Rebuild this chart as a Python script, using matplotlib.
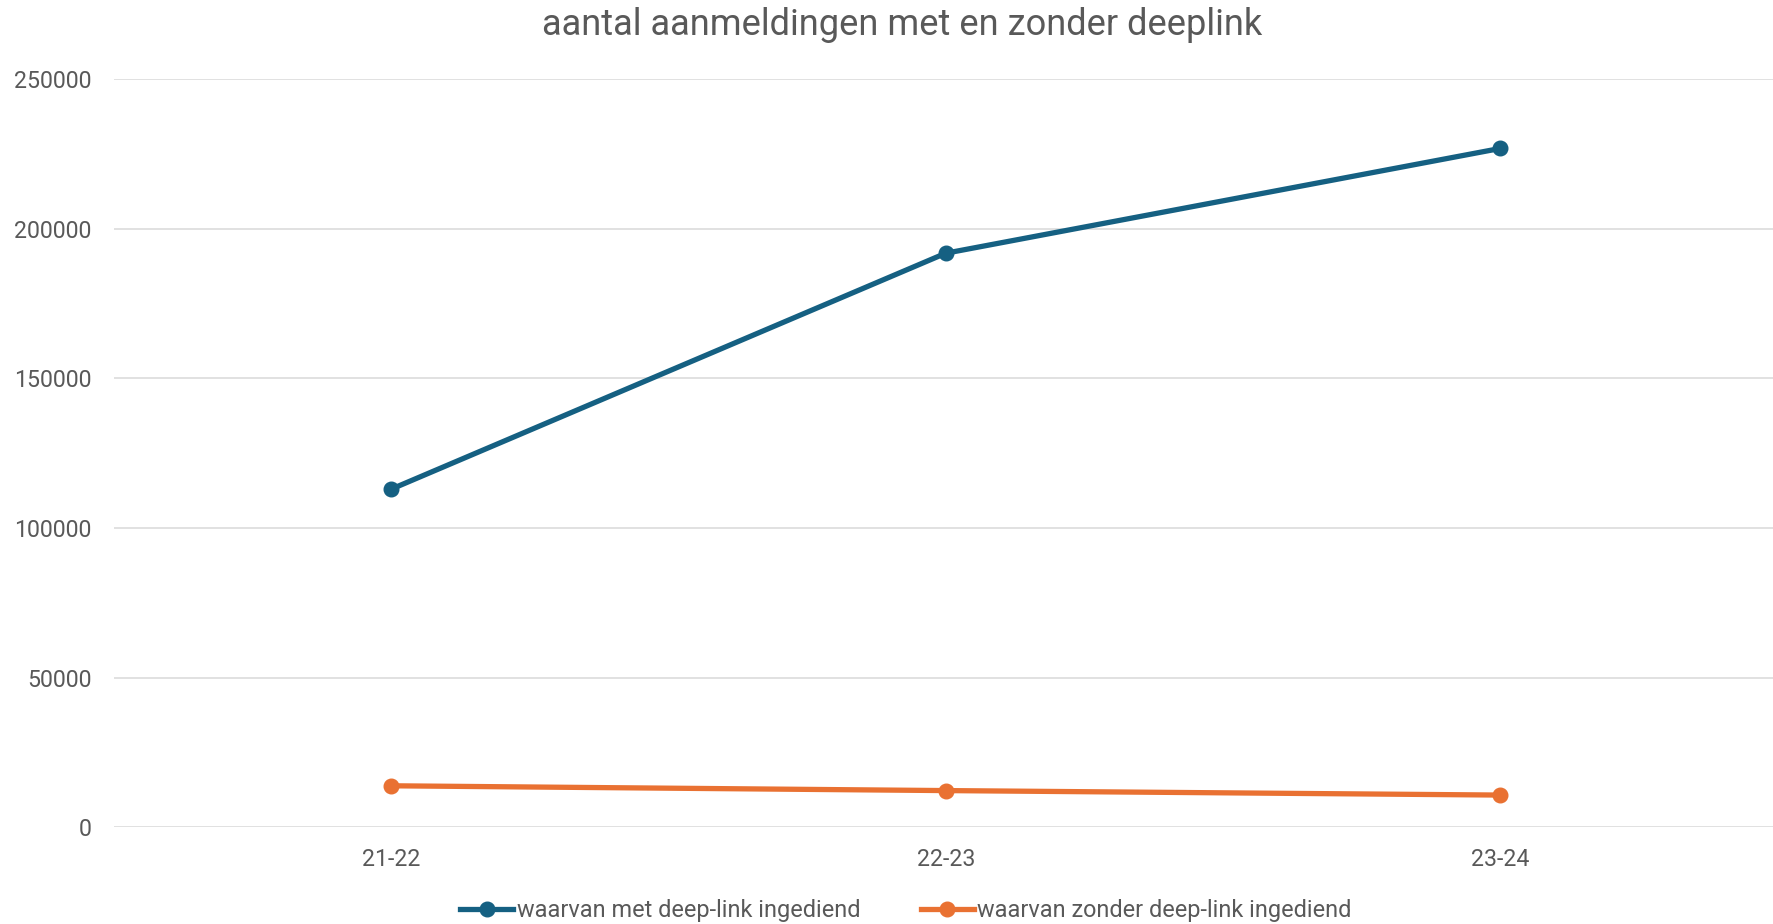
import matplotlib
matplotlib.use("Agg")
import matplotlib.pyplot as plt
from matplotlib.lines import Line2D

categories = ["21-22", "22-23", "23-24"]
met_deeplink = [113000, 191800, 226800]
zonder_deeplink = [13900, 12300, 10800]
series_names = ["waarvan met deep-link ingediend", "waarvan zonder deep-link ingediend"]
title = "aantal aanmeldingen met en zonder deeplink"
yticks = [0, 50000, 100000, 150000, 200000, 250000]

W, H = 1773, 924
plt.rcParams['font.family'] = ['Roboto', 'DejaVu Sans']
fig = plt.figure(figsize=(W / 100, H / 100), dpi=100)
left, right = 114, 1777.5
bottom, top = 827.4, 79.0
ax = fig.add_axes([left / W, 1 - bottom / H, (right - left) / W, (bottom - top) / H])

blue = "#156082"
orange = "#E97132"
text_col = "#595959"

x = list(range(len(categories)))
ax.plot(x, met_deeplink, color=blue, lw=3.8, marker='o', ms=10.5, solid_capstyle='round', zorder=3, clip_on=False)
ax.plot(x, zonder_deeplink, color=orange, lw=3.8, marker='o', ms=10.5, solid_capstyle='round', zorder=3, clip_on=False)

ax.set_xlim(-0.5, len(categories) - 0.5)
ax.set_ylim(0, 250000)
ax.set_yticks(yticks)
ax.set_yticklabels([str(v) for v in yticks])
ax.set_xticks(x)
ax.set_xticklabels(categories)
ax.grid(axis='y', color='#D9D9D9', lw=1.1)
ax.set_axisbelow(True)
for s in ax.spines.values():
    s.set_visible(False)
ax.tick_params(axis='both', length=0, labelsize=16.7, colors=text_col)
ax.tick_params(axis='y', pad=16)
ax.tick_params(axis='x', pad=14.5)

fig.text(902 / W, 1 - 25 / H, title, ha='center', va='center', fontsize=26.1, color=text_col)

handles = [Line2D([0], [0], color=blue, lw=3.8, marker='o', ms=10.5),
           Line2D([0], [0], color=orange, lw=3.8, marker='o', ms=10.5)]
fig.legend(handles, series_names, loc='center', bbox_to_anchor=(906 / W, 1 - 911 / H),
           ncol=2, frameon=False, fontsize=16.9, labelcolor=text_col,
           handlelength=2.25, handletextpad=0.15, columnspacing=2.6)

fig.savefig("out.png", dpi=100, facecolor='white')
